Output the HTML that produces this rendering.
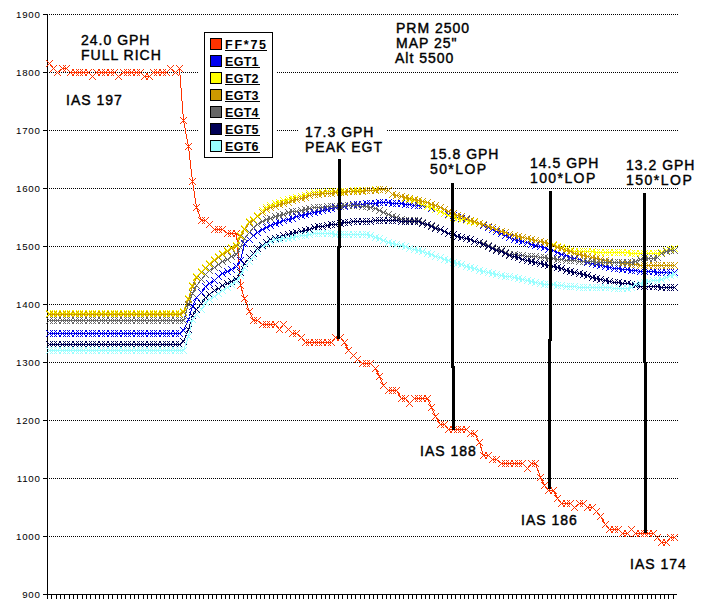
<!DOCTYPE html>
<html><head><meta charset="utf-8"><style>
html,body{margin:0;padding:0;background:#fff;}
svg{display:block;}
text{font-family:"Liberation Sans",sans-serif;}
.yl{font-size:9.7px;text-anchor:end;letter-spacing:0.75px;}
.an{font-size:14px;font-weight:normal;letter-spacing:1px;stroke:#000;stroke-width:0.4px;}
.lg{font-size:12.5px;font-weight:bold;}
</style></head><body>
<svg width="716" height="607" viewBox="0 0 716 607" shape-rendering="crispEdges">
<defs><path id="mk" d="M-3 -3h1v1h-1zM-3 3h1v1h-1zM-2 -2h1v1h-1zM-2 2h1v1h-1zM-1 -1h1v1h-1zM-1 1h1v1h-1zM1 1h1v1h-1zM1 -1h1v1h-1zM2 2h1v1h-1zM2 -2h1v1h-1zM3 3h1v1h-1zM3 -3h1v1h-1zM0 0h1v1h-1z"/></defs><rect width="716" height="607" fill="#fff"/>
<line x1="49" y1="14.5" x2="678" y2="14.5" stroke="#000" stroke-width="1" stroke-dasharray="1 1"/><line x1="49" y1="72.5" x2="678" y2="72.5" stroke="#000" stroke-width="1" stroke-dasharray="1 1"/><line x1="49" y1="130.5" x2="678" y2="130.5" stroke="#000" stroke-width="1" stroke-dasharray="1 1"/><line x1="49" y1="188.5" x2="678" y2="188.5" stroke="#000" stroke-width="1" stroke-dasharray="1 1"/><line x1="49" y1="246.5" x2="678" y2="246.5" stroke="#000" stroke-width="1" stroke-dasharray="1 1"/><line x1="49" y1="304.5" x2="678" y2="304.5" stroke="#000" stroke-width="1" stroke-dasharray="1 1"/><line x1="49" y1="362.5" x2="678" y2="362.5" stroke="#000" stroke-width="1" stroke-dasharray="1 1"/><line x1="49" y1="420.5" x2="678" y2="420.5" stroke="#000" stroke-width="1" stroke-dasharray="1 1"/><line x1="49" y1="478.5" x2="678" y2="478.5" stroke="#000" stroke-width="1" stroke-dasharray="1 1"/><line x1="49" y1="536.5" x2="678" y2="536.5" stroke="#000" stroke-width="1" stroke-dasharray="1 1"/><rect x="43" y="14" width="4" height="1" fill="#000"/><rect x="43" y="72" width="4" height="1" fill="#000"/><rect x="43" y="130" width="4" height="1" fill="#000"/><rect x="43" y="188" width="4" height="1" fill="#000"/><rect x="43" y="246" width="4" height="1" fill="#000"/><rect x="43" y="304" width="4" height="1" fill="#000"/><rect x="43" y="362" width="4" height="1" fill="#000"/><rect x="43" y="420" width="4" height="1" fill="#000"/><rect x="43" y="478" width="4" height="1" fill="#000"/><rect x="43" y="536" width="4" height="1" fill="#000"/><rect x="43" y="594" width="4" height="1" fill="#000"/><rect x="47" y="595" width="1" height="4" fill="#000"/><rect x="51" y="595" width="1" height="4" fill="#000"/><rect x="56" y="595" width="1" height="4" fill="#000"/><rect x="60" y="595" width="1" height="4" fill="#000"/><rect x="64" y="595" width="1" height="4" fill="#000"/><rect x="69" y="595" width="1" height="4" fill="#000"/><rect x="73" y="595" width="1" height="4" fill="#000"/><rect x="77" y="595" width="1" height="4" fill="#000"/><rect x="82" y="595" width="1" height="4" fill="#000"/><rect x="86" y="595" width="1" height="4" fill="#000"/><rect x="90" y="595" width="1" height="4" fill="#000"/><rect x="95" y="595" width="1" height="4" fill="#000"/><rect x="99" y="595" width="1" height="4" fill="#000"/><rect x="103" y="595" width="1" height="4" fill="#000"/><rect x="108" y="595" width="1" height="4" fill="#000"/><rect x="112" y="595" width="1" height="4" fill="#000"/><rect x="117" y="595" width="1" height="4" fill="#000"/><rect x="121" y="595" width="1" height="4" fill="#000"/><rect x="125" y="595" width="1" height="4" fill="#000"/><rect x="130" y="595" width="1" height="4" fill="#000"/><rect x="134" y="595" width="1" height="4" fill="#000"/><rect x="138" y="595" width="1" height="4" fill="#000"/><rect x="143" y="595" width="1" height="4" fill="#000"/><rect x="147" y="595" width="1" height="4" fill="#000"/><rect x="151" y="595" width="1" height="4" fill="#000"/><rect x="156" y="595" width="1" height="4" fill="#000"/><rect x="160" y="595" width="1" height="4" fill="#000"/><rect x="164" y="595" width="1" height="4" fill="#000"/><rect x="169" y="595" width="1" height="4" fill="#000"/><rect x="173" y="595" width="1" height="4" fill="#000"/><rect x="177" y="595" width="1" height="4" fill="#000"/><rect x="182" y="595" width="1" height="4" fill="#000"/><rect x="186" y="595" width="1" height="4" fill="#000"/><rect x="190" y="595" width="1" height="4" fill="#000"/><rect x="195" y="595" width="1" height="4" fill="#000"/><rect x="199" y="595" width="1" height="4" fill="#000"/><rect x="203" y="595" width="1" height="4" fill="#000"/><rect x="208" y="595" width="1" height="4" fill="#000"/><rect x="212" y="595" width="1" height="4" fill="#000"/><rect x="216" y="595" width="1" height="4" fill="#000"/><rect x="221" y="595" width="1" height="4" fill="#000"/><rect x="225" y="595" width="1" height="4" fill="#000"/><rect x="229" y="595" width="1" height="4" fill="#000"/><rect x="234" y="595" width="1" height="4" fill="#000"/><rect x="238" y="595" width="1" height="4" fill="#000"/><rect x="243" y="595" width="1" height="4" fill="#000"/><rect x="247" y="595" width="1" height="4" fill="#000"/><rect x="251" y="595" width="1" height="4" fill="#000"/><rect x="256" y="595" width="1" height="4" fill="#000"/><rect x="260" y="595" width="1" height="4" fill="#000"/><rect x="264" y="595" width="1" height="4" fill="#000"/><rect x="269" y="595" width="1" height="4" fill="#000"/><rect x="273" y="595" width="1" height="4" fill="#000"/><rect x="277" y="595" width="1" height="4" fill="#000"/><rect x="282" y="595" width="1" height="4" fill="#000"/><rect x="286" y="595" width="1" height="4" fill="#000"/><rect x="290" y="595" width="1" height="4" fill="#000"/><rect x="295" y="595" width="1" height="4" fill="#000"/><rect x="299" y="595" width="1" height="4" fill="#000"/><rect x="303" y="595" width="1" height="4" fill="#000"/><rect x="308" y="595" width="1" height="4" fill="#000"/><rect x="312" y="595" width="1" height="4" fill="#000"/><rect x="316" y="595" width="1" height="4" fill="#000"/><rect x="321" y="595" width="1" height="4" fill="#000"/><rect x="325" y="595" width="1" height="4" fill="#000"/><rect x="329" y="595" width="1" height="4" fill="#000"/><rect x="334" y="595" width="1" height="4" fill="#000"/><rect x="338" y="595" width="1" height="4" fill="#000"/><rect x="342" y="595" width="1" height="4" fill="#000"/><rect x="347" y="595" width="1" height="4" fill="#000"/><rect x="351" y="595" width="1" height="4" fill="#000"/><rect x="355" y="595" width="1" height="4" fill="#000"/><rect x="360" y="595" width="1" height="4" fill="#000"/><rect x="364" y="595" width="1" height="4" fill="#000"/><rect x="369" y="595" width="1" height="4" fill="#000"/><rect x="373" y="595" width="1" height="4" fill="#000"/><rect x="377" y="595" width="1" height="4" fill="#000"/><rect x="382" y="595" width="1" height="4" fill="#000"/><rect x="386" y="595" width="1" height="4" fill="#000"/><rect x="390" y="595" width="1" height="4" fill="#000"/><rect x="395" y="595" width="1" height="4" fill="#000"/><rect x="399" y="595" width="1" height="4" fill="#000"/><rect x="403" y="595" width="1" height="4" fill="#000"/><rect x="408" y="595" width="1" height="4" fill="#000"/><rect x="412" y="595" width="1" height="4" fill="#000"/><rect x="416" y="595" width="1" height="4" fill="#000"/><rect x="421" y="595" width="1" height="4" fill="#000"/><rect x="425" y="595" width="1" height="4" fill="#000"/><rect x="429" y="595" width="1" height="4" fill="#000"/><rect x="434" y="595" width="1" height="4" fill="#000"/><rect x="438" y="595" width="1" height="4" fill="#000"/><rect x="442" y="595" width="1" height="4" fill="#000"/><rect x="447" y="595" width="1" height="4" fill="#000"/><rect x="451" y="595" width="1" height="4" fill="#000"/><rect x="455" y="595" width="1" height="4" fill="#000"/><rect x="460" y="595" width="1" height="4" fill="#000"/><rect x="464" y="595" width="1" height="4" fill="#000"/><rect x="468" y="595" width="1" height="4" fill="#000"/><rect x="473" y="595" width="1" height="4" fill="#000"/><rect x="477" y="595" width="1" height="4" fill="#000"/><rect x="481" y="595" width="1" height="4" fill="#000"/><rect x="486" y="595" width="1" height="4" fill="#000"/><rect x="490" y="595" width="1" height="4" fill="#000"/><rect x="495" y="595" width="1" height="4" fill="#000"/><rect x="499" y="595" width="1" height="4" fill="#000"/><rect x="503" y="595" width="1" height="4" fill="#000"/><rect x="508" y="595" width="1" height="4" fill="#000"/><rect x="512" y="595" width="1" height="4" fill="#000"/><rect x="516" y="595" width="1" height="4" fill="#000"/><rect x="521" y="595" width="1" height="4" fill="#000"/><rect x="525" y="595" width="1" height="4" fill="#000"/><rect x="529" y="595" width="1" height="4" fill="#000"/><rect x="534" y="595" width="1" height="4" fill="#000"/><rect x="538" y="595" width="1" height="4" fill="#000"/><rect x="542" y="595" width="1" height="4" fill="#000"/><rect x="547" y="595" width="1" height="4" fill="#000"/><rect x="551" y="595" width="1" height="4" fill="#000"/><rect x="555" y="595" width="1" height="4" fill="#000"/><rect x="560" y="595" width="1" height="4" fill="#000"/><rect x="564" y="595" width="1" height="4" fill="#000"/><rect x="568" y="595" width="1" height="4" fill="#000"/><rect x="573" y="595" width="1" height="4" fill="#000"/><rect x="577" y="595" width="1" height="4" fill="#000"/><rect x="581" y="595" width="1" height="4" fill="#000"/><rect x="586" y="595" width="1" height="4" fill="#000"/><rect x="590" y="595" width="1" height="4" fill="#000"/><rect x="594" y="595" width="1" height="4" fill="#000"/><rect x="599" y="595" width="1" height="4" fill="#000"/><rect x="603" y="595" width="1" height="4" fill="#000"/><rect x="607" y="595" width="1" height="4" fill="#000"/><rect x="612" y="595" width="1" height="4" fill="#000"/><rect x="616" y="595" width="1" height="4" fill="#000"/><rect x="621" y="595" width="1" height="4" fill="#000"/><rect x="625" y="595" width="1" height="4" fill="#000"/><rect x="629" y="595" width="1" height="4" fill="#000"/><rect x="634" y="595" width="1" height="4" fill="#000"/><rect x="638" y="595" width="1" height="4" fill="#000"/><rect x="642" y="595" width="1" height="4" fill="#000"/><rect x="647" y="595" width="1" height="4" fill="#000"/><rect x="651" y="595" width="1" height="4" fill="#000"/><rect x="655" y="595" width="1" height="4" fill="#000"/><rect x="660" y="595" width="1" height="4" fill="#000"/><rect x="664" y="595" width="1" height="4" fill="#000"/><rect x="668" y="595" width="1" height="4" fill="#000"/><rect x="673" y="595" width="1" height="4" fill="#000"/><rect x="47" y="14" width="1" height="585" fill="#000"/><rect x="43" y="594" width="634" height="1" fill="#000"/><text x="40.6" y="18" class="yl">1900</text><text x="40.6" y="76" class="yl">1800</text><text x="40.6" y="134" class="yl">1700</text><text x="40.6" y="192" class="yl">1600</text><text x="40.6" y="250" class="yl">1500</text><text x="40.6" y="308" class="yl">1400</text><text x="40.6" y="366" class="yl">1300</text><text x="40.6" y="424" class="yl">1200</text><text x="40.6" y="482" class="yl">1100</text><text x="40.6" y="540" class="yl">1000</text><text x="40.6" y="598" class="yl">900</text><polyline points="49.5,63.5 53.5,68.5 57.5,72.5 62.5,68.5 66.5,68.5 70.5,72.5 75.5,72.5 79.5,72.5 83.5,72.5 88.5,72.5 92.5,76.5 96.5,72.5 101.5,72.5 105.5,72.5 110.5,72.5 114.5,72.5 118.5,76.5 123.5,72.5 127.5,72.5 131.5,72.5 136.5,72.5 140.5,72.5 144.5,76.5 149.5,76.5 153.5,72.5 157.5,72.5 162.5,72.5 166.5,72.5 170.5,68.5 175.5,72.5 179.5,68.5 183.5,120.5 188.5,146.5 192.5,181.5 196.5,207.5 201.5,220.5 205.5,220.5 209.5,224.5 214.5,229.5 218.5,229.5 222.5,229.5 227.5,233.5 231.5,233.5 236.5,233.5 240.5,285.5 244.5,298.5 249.5,311.5 253.5,320.5 257.5,320.5 262.5,324.5 266.5,324.5 270.5,324.5 275.5,324.5 279.5,329.5 283.5,324.5 288.5,329.5 292.5,333.5 296.5,333.5 301.5,337.5 305.5,342.5 309.5,342.5 314.5,342.5 318.5,342.5 322.5,342.5 327.5,342.5 331.5,342.5 335.5,337.5 340.5,337.5 344.5,342.5 348.5,350.5 353.5,355.5 357.5,359.5 362.5,363.5 366.5,363.5 370.5,363.5 375.5,368.5 379.5,376.5 383.5,385.5 388.5,390.5 392.5,390.5 396.5,390.5 401.5,398.5 405.5,398.5 409.5,403.5 414.5,398.5 418.5,398.5 422.5,398.5 427.5,398.5 431.5,407.5 435.5,416.5 440.5,424.5 444.5,424.5 448.5,429.5 453.5,429.5 457.5,429.5 461.5,429.5 466.5,429.5 470.5,433.5 474.5,433.5 479.5,442.5 483.5,455.5 488.5,455.5 492.5,459.5 496.5,459.5 501.5,463.5 505.5,463.5 509.5,463.5 514.5,463.5 518.5,463.5 522.5,463.5 527.5,468.5 531.5,463.5 535.5,463.5 540.5,477.5 544.5,485.5 548.5,490.5 553.5,490.5 557.5,498.5 561.5,503.5 566.5,503.5 570.5,503.5 574.5,507.5 579.5,503.5 583.5,503.5 587.5,507.5 592.5,507.5 596.5,511.5 600.5,516.5 605.5,524.5 609.5,529.5 614.5,529.5 618.5,529.5 622.5,533.5 627.5,533.5 631.5,529.5 635.5,533.5 640.5,533.5 644.5,533.5 648.5,533.5 653.5,533.5 657.5,537.5 661.5,542.5 666.5,542.5 670.5,537.5 674.5,537.5" fill="none" stroke="#FF3300" stroke-width="1"/><g fill="#FF3300"><use href="#mk" x="49" y="63"/><use href="#mk" x="53" y="68"/><use href="#mk" x="57" y="72"/><use href="#mk" x="62" y="68"/><use href="#mk" x="66" y="68"/><use href="#mk" x="70" y="72"/><use href="#mk" x="75" y="72"/><use href="#mk" x="79" y="72"/><use href="#mk" x="83" y="72"/><use href="#mk" x="88" y="72"/><use href="#mk" x="92" y="76"/><use href="#mk" x="96" y="72"/><use href="#mk" x="101" y="72"/><use href="#mk" x="105" y="72"/><use href="#mk" x="110" y="72"/><use href="#mk" x="114" y="72"/><use href="#mk" x="118" y="76"/><use href="#mk" x="123" y="72"/><use href="#mk" x="127" y="72"/><use href="#mk" x="131" y="72"/><use href="#mk" x="136" y="72"/><use href="#mk" x="140" y="72"/><use href="#mk" x="144" y="76"/><use href="#mk" x="149" y="76"/><use href="#mk" x="153" y="72"/><use href="#mk" x="157" y="72"/><use href="#mk" x="162" y="72"/><use href="#mk" x="166" y="72"/><use href="#mk" x="170" y="68"/><use href="#mk" x="175" y="72"/><use href="#mk" x="179" y="68"/><use href="#mk" x="183" y="120"/><use href="#mk" x="188" y="146"/><use href="#mk" x="192" y="181"/><use href="#mk" x="196" y="207"/><use href="#mk" x="201" y="220"/><use href="#mk" x="205" y="220"/><use href="#mk" x="209" y="224"/><use href="#mk" x="214" y="229"/><use href="#mk" x="218" y="229"/><use href="#mk" x="222" y="229"/><use href="#mk" x="227" y="233"/><use href="#mk" x="231" y="233"/><use href="#mk" x="236" y="233"/><use href="#mk" x="240" y="285"/><use href="#mk" x="244" y="298"/><use href="#mk" x="249" y="311"/><use href="#mk" x="253" y="320"/><use href="#mk" x="257" y="320"/><use href="#mk" x="262" y="324"/><use href="#mk" x="266" y="324"/><use href="#mk" x="270" y="324"/><use href="#mk" x="275" y="324"/><use href="#mk" x="279" y="329"/><use href="#mk" x="283" y="324"/><use href="#mk" x="288" y="329"/><use href="#mk" x="292" y="333"/><use href="#mk" x="296" y="333"/><use href="#mk" x="301" y="337"/><use href="#mk" x="305" y="342"/><use href="#mk" x="309" y="342"/><use href="#mk" x="314" y="342"/><use href="#mk" x="318" y="342"/><use href="#mk" x="322" y="342"/><use href="#mk" x="327" y="342"/><use href="#mk" x="331" y="342"/><use href="#mk" x="335" y="337"/><use href="#mk" x="340" y="337"/><use href="#mk" x="344" y="342"/><use href="#mk" x="348" y="350"/><use href="#mk" x="353" y="355"/><use href="#mk" x="357" y="359"/><use href="#mk" x="362" y="363"/><use href="#mk" x="366" y="363"/><use href="#mk" x="370" y="363"/><use href="#mk" x="375" y="368"/><use href="#mk" x="379" y="376"/><use href="#mk" x="383" y="385"/><use href="#mk" x="388" y="390"/><use href="#mk" x="392" y="390"/><use href="#mk" x="396" y="390"/><use href="#mk" x="401" y="398"/><use href="#mk" x="405" y="398"/><use href="#mk" x="409" y="403"/><use href="#mk" x="414" y="398"/><use href="#mk" x="418" y="398"/><use href="#mk" x="422" y="398"/><use href="#mk" x="427" y="398"/><use href="#mk" x="431" y="407"/><use href="#mk" x="435" y="416"/><use href="#mk" x="440" y="424"/><use href="#mk" x="444" y="424"/><use href="#mk" x="448" y="429"/><use href="#mk" x="453" y="429"/><use href="#mk" x="457" y="429"/><use href="#mk" x="461" y="429"/><use href="#mk" x="466" y="429"/><use href="#mk" x="470" y="433"/><use href="#mk" x="474" y="433"/><use href="#mk" x="479" y="442"/><use href="#mk" x="483" y="455"/><use href="#mk" x="488" y="455"/><use href="#mk" x="492" y="459"/><use href="#mk" x="496" y="459"/><use href="#mk" x="501" y="463"/><use href="#mk" x="505" y="463"/><use href="#mk" x="509" y="463"/><use href="#mk" x="514" y="463"/><use href="#mk" x="518" y="463"/><use href="#mk" x="522" y="463"/><use href="#mk" x="527" y="468"/><use href="#mk" x="531" y="463"/><use href="#mk" x="535" y="463"/><use href="#mk" x="540" y="477"/><use href="#mk" x="544" y="485"/><use href="#mk" x="548" y="490"/><use href="#mk" x="553" y="490"/><use href="#mk" x="557" y="498"/><use href="#mk" x="561" y="503"/><use href="#mk" x="566" y="503"/><use href="#mk" x="570" y="503"/><use href="#mk" x="574" y="507"/><use href="#mk" x="579" y="503"/><use href="#mk" x="583" y="503"/><use href="#mk" x="587" y="507"/><use href="#mk" x="592" y="507"/><use href="#mk" x="596" y="511"/><use href="#mk" x="600" y="516"/><use href="#mk" x="605" y="524"/><use href="#mk" x="609" y="529"/><use href="#mk" x="614" y="529"/><use href="#mk" x="618" y="529"/><use href="#mk" x="622" y="533"/><use href="#mk" x="627" y="533"/><use href="#mk" x="631" y="529"/><use href="#mk" x="635" y="533"/><use href="#mk" x="640" y="533"/><use href="#mk" x="644" y="533"/><use href="#mk" x="648" y="533"/><use href="#mk" x="653" y="533"/><use href="#mk" x="657" y="537"/><use href="#mk" x="661" y="542"/><use href="#mk" x="666" y="542"/><use href="#mk" x="670" y="537"/><use href="#mk" x="674" y="537"/></g><polyline points="49.5,333.5 53.5,333.5 57.5,333.5 62.5,333.5 66.5,333.5 70.5,333.5 75.5,333.5 79.5,333.5 83.5,333.5 88.5,333.5 92.5,333.5 96.5,333.5 101.5,333.5 105.5,333.5 110.5,333.5 114.5,333.5 118.5,333.5 123.5,333.5 127.5,333.5 131.5,333.5 136.5,333.5 140.5,333.5 144.5,333.5 149.5,333.5 153.5,333.5 157.5,333.5 162.5,333.5 166.5,333.5 170.5,333.5 175.5,333.5 179.5,333.5 183.5,330.5 188.5,319.5 192.5,306.5 196.5,297.5 201.5,292.5 205.5,286.5 209.5,283.5 214.5,280.5 218.5,276.5 222.5,273.5 227.5,271.5 231.5,269.5 236.5,266.5 240.5,260.5 244.5,243.5 249.5,239.5 253.5,235.5 257.5,232.5 262.5,229.5 266.5,227.5 270.5,225.5 275.5,223.5 279.5,222.5 283.5,220.5 288.5,219.5 292.5,218.5 296.5,216.5 301.5,215.5 305.5,214.5 309.5,213.5 314.5,212.5 318.5,211.5 322.5,210.5 327.5,209.5 331.5,208.5 335.5,207.5 340.5,206.5 344.5,206.5 348.5,205.5 353.5,204.5 357.5,204.5 362.5,204.5 366.5,203.5 370.5,203.5 375.5,203.5 379.5,202.5 383.5,202.5 388.5,202.5 392.5,203.5 396.5,203.5 401.5,203.5 405.5,204.5 409.5,204.5 414.5,205.5 418.5,205.5 422.5,205.5 427.5,206.5 431.5,208.5 435.5,209.5 440.5,211.5 444.5,213.5 448.5,214.5 453.5,215.5 457.5,217.5 461.5,218.5 466.5,219.5 470.5,220.5 474.5,222.5 479.5,223.5 483.5,225.5 488.5,227.5 492.5,229.5 496.5,231.5 501.5,233.5 505.5,235.5 509.5,237.5 514.5,239.5 518.5,240.5 522.5,241.5 527.5,242.5 531.5,244.5 535.5,245.5 540.5,246.5 544.5,247.5 548.5,249.5 553.5,250.5 557.5,252.5 561.5,254.5 566.5,255.5 570.5,257.5 574.5,258.5 579.5,259.5 583.5,261.5 587.5,262.5 592.5,263.5 596.5,264.5 600.5,265.5 605.5,266.5 609.5,267.5 614.5,268.5 618.5,268.5 622.5,269.5 627.5,269.5 631.5,270.5 635.5,270.5 640.5,271.5 644.5,271.5 648.5,271.5 653.5,271.5 657.5,272.5 661.5,272.5 666.5,272.5 670.5,272.5 674.5,272.5" fill="none" stroke="#0000EE" stroke-width="1"/><g fill="#0000EE"><use href="#mk" x="49" y="333"/><use href="#mk" x="53" y="333"/><use href="#mk" x="57" y="333"/><use href="#mk" x="62" y="333"/><use href="#mk" x="66" y="333"/><use href="#mk" x="70" y="333"/><use href="#mk" x="75" y="333"/><use href="#mk" x="79" y="333"/><use href="#mk" x="83" y="333"/><use href="#mk" x="88" y="333"/><use href="#mk" x="92" y="333"/><use href="#mk" x="96" y="333"/><use href="#mk" x="101" y="333"/><use href="#mk" x="105" y="333"/><use href="#mk" x="110" y="333"/><use href="#mk" x="114" y="333"/><use href="#mk" x="118" y="333"/><use href="#mk" x="123" y="333"/><use href="#mk" x="127" y="333"/><use href="#mk" x="131" y="333"/><use href="#mk" x="136" y="333"/><use href="#mk" x="140" y="333"/><use href="#mk" x="144" y="333"/><use href="#mk" x="149" y="333"/><use href="#mk" x="153" y="333"/><use href="#mk" x="157" y="333"/><use href="#mk" x="162" y="333"/><use href="#mk" x="166" y="333"/><use href="#mk" x="170" y="333"/><use href="#mk" x="175" y="333"/><use href="#mk" x="179" y="333"/><use href="#mk" x="183" y="330"/><use href="#mk" x="188" y="319"/><use href="#mk" x="192" y="306"/><use href="#mk" x="196" y="297"/><use href="#mk" x="201" y="292"/><use href="#mk" x="205" y="286"/><use href="#mk" x="209" y="283"/><use href="#mk" x="214" y="280"/><use href="#mk" x="218" y="276"/><use href="#mk" x="222" y="273"/><use href="#mk" x="227" y="271"/><use href="#mk" x="231" y="269"/><use href="#mk" x="236" y="266"/><use href="#mk" x="240" y="260"/><use href="#mk" x="244" y="243"/><use href="#mk" x="249" y="239"/><use href="#mk" x="253" y="235"/><use href="#mk" x="257" y="232"/><use href="#mk" x="262" y="229"/><use href="#mk" x="266" y="227"/><use href="#mk" x="270" y="225"/><use href="#mk" x="275" y="223"/><use href="#mk" x="279" y="222"/><use href="#mk" x="283" y="220"/><use href="#mk" x="288" y="219"/><use href="#mk" x="292" y="218"/><use href="#mk" x="296" y="216"/><use href="#mk" x="301" y="215"/><use href="#mk" x="305" y="214"/><use href="#mk" x="309" y="213"/><use href="#mk" x="314" y="212"/><use href="#mk" x="318" y="211"/><use href="#mk" x="322" y="210"/><use href="#mk" x="327" y="209"/><use href="#mk" x="331" y="208"/><use href="#mk" x="335" y="207"/><use href="#mk" x="340" y="206"/><use href="#mk" x="344" y="206"/><use href="#mk" x="348" y="205"/><use href="#mk" x="353" y="204"/><use href="#mk" x="357" y="204"/><use href="#mk" x="362" y="204"/><use href="#mk" x="366" y="203"/><use href="#mk" x="370" y="203"/><use href="#mk" x="375" y="203"/><use href="#mk" x="379" y="202"/><use href="#mk" x="383" y="202"/><use href="#mk" x="388" y="202"/><use href="#mk" x="392" y="203"/><use href="#mk" x="396" y="203"/><use href="#mk" x="401" y="203"/><use href="#mk" x="405" y="204"/><use href="#mk" x="409" y="204"/><use href="#mk" x="414" y="205"/><use href="#mk" x="418" y="205"/><use href="#mk" x="422" y="205"/><use href="#mk" x="427" y="206"/><use href="#mk" x="431" y="208"/><use href="#mk" x="435" y="209"/><use href="#mk" x="440" y="211"/><use href="#mk" x="444" y="213"/><use href="#mk" x="448" y="214"/><use href="#mk" x="453" y="215"/><use href="#mk" x="457" y="217"/><use href="#mk" x="461" y="218"/><use href="#mk" x="466" y="219"/><use href="#mk" x="470" y="220"/><use href="#mk" x="474" y="222"/><use href="#mk" x="479" y="223"/><use href="#mk" x="483" y="225"/><use href="#mk" x="488" y="227"/><use href="#mk" x="492" y="229"/><use href="#mk" x="496" y="231"/><use href="#mk" x="501" y="233"/><use href="#mk" x="505" y="235"/><use href="#mk" x="509" y="237"/><use href="#mk" x="514" y="239"/><use href="#mk" x="518" y="240"/><use href="#mk" x="522" y="241"/><use href="#mk" x="527" y="242"/><use href="#mk" x="531" y="244"/><use href="#mk" x="535" y="245"/><use href="#mk" x="540" y="246"/><use href="#mk" x="544" y="247"/><use href="#mk" x="548" y="249"/><use href="#mk" x="553" y="250"/><use href="#mk" x="557" y="252"/><use href="#mk" x="561" y="254"/><use href="#mk" x="566" y="255"/><use href="#mk" x="570" y="257"/><use href="#mk" x="574" y="258"/><use href="#mk" x="579" y="259"/><use href="#mk" x="583" y="261"/><use href="#mk" x="587" y="262"/><use href="#mk" x="592" y="263"/><use href="#mk" x="596" y="264"/><use href="#mk" x="600" y="265"/><use href="#mk" x="605" y="266"/><use href="#mk" x="609" y="267"/><use href="#mk" x="614" y="268"/><use href="#mk" x="618" y="268"/><use href="#mk" x="622" y="269"/><use href="#mk" x="627" y="269"/><use href="#mk" x="631" y="270"/><use href="#mk" x="635" y="270"/><use href="#mk" x="640" y="271"/><use href="#mk" x="644" y="271"/><use href="#mk" x="648" y="271"/><use href="#mk" x="653" y="271"/><use href="#mk" x="657" y="272"/><use href="#mk" x="661" y="272"/><use href="#mk" x="666" y="272"/><use href="#mk" x="670" y="272"/><use href="#mk" x="674" y="272"/></g><polyline points="49.5,313.5 53.5,313.5 57.5,313.5 62.5,313.5 66.5,313.5 70.5,313.5 75.5,313.5 79.5,313.5 83.5,313.5 88.5,313.5 92.5,313.5 96.5,313.5 101.5,313.5 105.5,313.5 110.5,313.5 114.5,313.5 118.5,313.5 123.5,313.5 127.5,313.5 131.5,313.5 136.5,313.5 140.5,313.5 144.5,313.5 149.5,313.5 153.5,313.5 157.5,313.5 162.5,313.5 166.5,313.5 170.5,313.5 175.5,313.5 179.5,313.5 183.5,311.5 188.5,298.5 192.5,285.5 196.5,276.5 201.5,271.5 205.5,267.5 209.5,263.5 214.5,259.5 218.5,256.5 222.5,253.5 227.5,250.5 231.5,247.5 236.5,245.5 240.5,235.5 244.5,228.5 249.5,221.5 253.5,219.5 257.5,215.5 262.5,210.5 266.5,207.5 270.5,205.5 275.5,203.5 279.5,202.5 283.5,200.5 288.5,199.5 292.5,198.5 296.5,197.5 301.5,196.5 305.5,195.5 309.5,193.5 314.5,192.5 318.5,192.5 322.5,192.5 327.5,191.5 331.5,191.5 335.5,191.5 340.5,191.5 344.5,191.5 348.5,191.5 353.5,190.5 357.5,190.5 362.5,190.5 366.5,190.5 370.5,190.5 375.5,189.5 379.5,189.5 383.5,189.5 388.5,190.5 392.5,194.5 396.5,195.5 401.5,196.5 405.5,198.5 409.5,199.5 414.5,200.5 418.5,202.5 422.5,204.5 427.5,206.5 431.5,207.5 435.5,209.5 440.5,211.5 444.5,213.5 448.5,215.5 453.5,217.5 457.5,218.5 461.5,219.5 466.5,220.5 470.5,221.5 474.5,222.5 479.5,223.5 483.5,224.5 488.5,226.5 492.5,227.5 496.5,229.5 501.5,231.5 505.5,232.5 509.5,234.5 514.5,235.5 518.5,236.5 522.5,237.5 527.5,238.5 531.5,239.5 535.5,240.5 540.5,241.5 544.5,242.5 548.5,243.5 553.5,244.5 557.5,246.5 561.5,247.5 566.5,248.5 570.5,250.5 574.5,251.5 579.5,251.5 583.5,251.5 587.5,251.5 592.5,251.5 596.5,252.5 600.5,252.5 605.5,252.5 609.5,252.5 614.5,252.5 618.5,252.5 622.5,252.5 627.5,252.5 631.5,253.5 635.5,253.5 640.5,253.5 644.5,253.5 648.5,253.5 653.5,253.5 657.5,253.5 661.5,252.5 666.5,250.5 670.5,249.5 674.5,248.5" fill="none" stroke="#FFFF00" stroke-width="1"/><g fill="#FFFF00"><use href="#mk" x="49" y="313"/><use href="#mk" x="53" y="313"/><use href="#mk" x="57" y="313"/><use href="#mk" x="62" y="313"/><use href="#mk" x="66" y="313"/><use href="#mk" x="70" y="313"/><use href="#mk" x="75" y="313"/><use href="#mk" x="79" y="313"/><use href="#mk" x="83" y="313"/><use href="#mk" x="88" y="313"/><use href="#mk" x="92" y="313"/><use href="#mk" x="96" y="313"/><use href="#mk" x="101" y="313"/><use href="#mk" x="105" y="313"/><use href="#mk" x="110" y="313"/><use href="#mk" x="114" y="313"/><use href="#mk" x="118" y="313"/><use href="#mk" x="123" y="313"/><use href="#mk" x="127" y="313"/><use href="#mk" x="131" y="313"/><use href="#mk" x="136" y="313"/><use href="#mk" x="140" y="313"/><use href="#mk" x="144" y="313"/><use href="#mk" x="149" y="313"/><use href="#mk" x="153" y="313"/><use href="#mk" x="157" y="313"/><use href="#mk" x="162" y="313"/><use href="#mk" x="166" y="313"/><use href="#mk" x="170" y="313"/><use href="#mk" x="175" y="313"/><use href="#mk" x="179" y="313"/><use href="#mk" x="183" y="311"/><use href="#mk" x="188" y="298"/><use href="#mk" x="192" y="285"/><use href="#mk" x="196" y="276"/><use href="#mk" x="201" y="271"/><use href="#mk" x="205" y="267"/><use href="#mk" x="209" y="263"/><use href="#mk" x="214" y="259"/><use href="#mk" x="218" y="256"/><use href="#mk" x="222" y="253"/><use href="#mk" x="227" y="250"/><use href="#mk" x="231" y="247"/><use href="#mk" x="236" y="245"/><use href="#mk" x="240" y="235"/><use href="#mk" x="244" y="228"/><use href="#mk" x="249" y="221"/><use href="#mk" x="253" y="219"/><use href="#mk" x="257" y="215"/><use href="#mk" x="262" y="210"/><use href="#mk" x="266" y="207"/><use href="#mk" x="270" y="205"/><use href="#mk" x="275" y="203"/><use href="#mk" x="279" y="202"/><use href="#mk" x="283" y="200"/><use href="#mk" x="288" y="199"/><use href="#mk" x="292" y="198"/><use href="#mk" x="296" y="197"/><use href="#mk" x="301" y="196"/><use href="#mk" x="305" y="195"/><use href="#mk" x="309" y="193"/><use href="#mk" x="314" y="192"/><use href="#mk" x="318" y="192"/><use href="#mk" x="322" y="192"/><use href="#mk" x="327" y="191"/><use href="#mk" x="331" y="191"/><use href="#mk" x="335" y="191"/><use href="#mk" x="340" y="191"/><use href="#mk" x="344" y="191"/><use href="#mk" x="348" y="191"/><use href="#mk" x="353" y="190"/><use href="#mk" x="357" y="190"/><use href="#mk" x="362" y="190"/><use href="#mk" x="366" y="190"/><use href="#mk" x="370" y="190"/><use href="#mk" x="375" y="189"/><use href="#mk" x="379" y="189"/><use href="#mk" x="383" y="189"/><use href="#mk" x="388" y="190"/><use href="#mk" x="392" y="194"/><use href="#mk" x="396" y="195"/><use href="#mk" x="401" y="196"/><use href="#mk" x="405" y="198"/><use href="#mk" x="409" y="199"/><use href="#mk" x="414" y="200"/><use href="#mk" x="418" y="202"/><use href="#mk" x="422" y="204"/><use href="#mk" x="427" y="206"/><use href="#mk" x="431" y="207"/><use href="#mk" x="435" y="209"/><use href="#mk" x="440" y="211"/><use href="#mk" x="444" y="213"/><use href="#mk" x="448" y="215"/><use href="#mk" x="453" y="217"/><use href="#mk" x="457" y="218"/><use href="#mk" x="461" y="219"/><use href="#mk" x="466" y="220"/><use href="#mk" x="470" y="221"/><use href="#mk" x="474" y="222"/><use href="#mk" x="479" y="223"/><use href="#mk" x="483" y="224"/><use href="#mk" x="488" y="226"/><use href="#mk" x="492" y="227"/><use href="#mk" x="496" y="229"/><use href="#mk" x="501" y="231"/><use href="#mk" x="505" y="232"/><use href="#mk" x="509" y="234"/><use href="#mk" x="514" y="235"/><use href="#mk" x="518" y="236"/><use href="#mk" x="522" y="237"/><use href="#mk" x="527" y="238"/><use href="#mk" x="531" y="239"/><use href="#mk" x="535" y="240"/><use href="#mk" x="540" y="241"/><use href="#mk" x="544" y="242"/><use href="#mk" x="548" y="243"/><use href="#mk" x="553" y="244"/><use href="#mk" x="557" y="246"/><use href="#mk" x="561" y="247"/><use href="#mk" x="566" y="248"/><use href="#mk" x="570" y="250"/><use href="#mk" x="574" y="251"/><use href="#mk" x="579" y="251"/><use href="#mk" x="583" y="251"/><use href="#mk" x="587" y="251"/><use href="#mk" x="592" y="251"/><use href="#mk" x="596" y="252"/><use href="#mk" x="600" y="252"/><use href="#mk" x="605" y="252"/><use href="#mk" x="609" y="252"/><use href="#mk" x="614" y="252"/><use href="#mk" x="618" y="252"/><use href="#mk" x="622" y="252"/><use href="#mk" x="627" y="252"/><use href="#mk" x="631" y="253"/><use href="#mk" x="635" y="253"/><use href="#mk" x="640" y="253"/><use href="#mk" x="644" y="253"/><use href="#mk" x="648" y="253"/><use href="#mk" x="653" y="253"/><use href="#mk" x="657" y="253"/><use href="#mk" x="661" y="252"/><use href="#mk" x="666" y="250"/><use href="#mk" x="670" y="249"/><use href="#mk" x="674" y="248"/></g><polyline points="49.5,314.5 53.5,314.5 57.5,314.5 62.5,314.5 66.5,314.5 70.5,314.5 75.5,314.5 79.5,314.5 83.5,314.5 88.5,314.5 92.5,314.5 96.5,314.5 101.5,314.5 105.5,314.5 110.5,314.5 114.5,314.5 118.5,314.5 123.5,314.5 127.5,314.5 131.5,314.5 136.5,314.5 140.5,314.5 144.5,314.5 149.5,314.5 153.5,314.5 157.5,314.5 162.5,314.5 166.5,314.5 170.5,314.5 175.5,314.5 179.5,314.5 183.5,312.5 188.5,299.5 192.5,286.5 196.5,277.5 201.5,272.5 205.5,268.5 209.5,264.5 214.5,260.5 218.5,257.5 222.5,254.5 227.5,251.5 231.5,248.5 236.5,246.5 240.5,236.5 244.5,229.5 249.5,222.5 253.5,220.5 257.5,216.5 262.5,212.5 266.5,209.5 270.5,207.5 275.5,206.5 279.5,204.5 283.5,203.5 288.5,202.5 292.5,200.5 296.5,199.5 301.5,198.5 305.5,197.5 309.5,195.5 314.5,194.5 318.5,194.5 322.5,193.5 327.5,193.5 331.5,193.5 335.5,192.5 340.5,192.5 344.5,192.5 348.5,191.5 353.5,191.5 357.5,191.5 362.5,191.5 366.5,190.5 370.5,190.5 375.5,190.5 379.5,189.5 383.5,189.5 388.5,190.5 392.5,194.5 396.5,195.5 401.5,196.5 405.5,197.5 409.5,198.5 414.5,199.5 418.5,200.5 422.5,201.5 427.5,202.5 431.5,204.5 435.5,205.5 440.5,207.5 444.5,209.5 448.5,211.5 453.5,213.5 457.5,215.5 461.5,216.5 466.5,218.5 470.5,220.5 474.5,221.5 479.5,223.5 483.5,224.5 488.5,226.5 492.5,227.5 496.5,229.5 501.5,231.5 505.5,232.5 509.5,234.5 514.5,235.5 518.5,236.5 522.5,237.5 527.5,238.5 531.5,239.5 535.5,240.5 540.5,241.5 544.5,242.5 548.5,243.5 553.5,245.5 557.5,247.5 561.5,248.5 566.5,250.5 570.5,251.5 574.5,253.5 579.5,254.5 583.5,255.5 587.5,256.5 592.5,257.5 596.5,258.5 600.5,259.5 605.5,260.5 609.5,261.5 614.5,262.5 618.5,262.5 622.5,263.5 627.5,263.5 631.5,264.5 635.5,264.5 640.5,265.5 644.5,265.5 648.5,265.5 653.5,265.5 657.5,265.5 661.5,265.5 666.5,265.5 670.5,265.5 674.5,265.5" fill="none" stroke="#CC9900" stroke-width="1"/><g fill="#CC9900"><use href="#mk" x="49" y="314"/><use href="#mk" x="53" y="314"/><use href="#mk" x="57" y="314"/><use href="#mk" x="62" y="314"/><use href="#mk" x="66" y="314"/><use href="#mk" x="70" y="314"/><use href="#mk" x="75" y="314"/><use href="#mk" x="79" y="314"/><use href="#mk" x="83" y="314"/><use href="#mk" x="88" y="314"/><use href="#mk" x="92" y="314"/><use href="#mk" x="96" y="314"/><use href="#mk" x="101" y="314"/><use href="#mk" x="105" y="314"/><use href="#mk" x="110" y="314"/><use href="#mk" x="114" y="314"/><use href="#mk" x="118" y="314"/><use href="#mk" x="123" y="314"/><use href="#mk" x="127" y="314"/><use href="#mk" x="131" y="314"/><use href="#mk" x="136" y="314"/><use href="#mk" x="140" y="314"/><use href="#mk" x="144" y="314"/><use href="#mk" x="149" y="314"/><use href="#mk" x="153" y="314"/><use href="#mk" x="157" y="314"/><use href="#mk" x="162" y="314"/><use href="#mk" x="166" y="314"/><use href="#mk" x="170" y="314"/><use href="#mk" x="175" y="314"/><use href="#mk" x="179" y="314"/><use href="#mk" x="183" y="312"/><use href="#mk" x="188" y="299"/><use href="#mk" x="192" y="286"/><use href="#mk" x="196" y="277"/><use href="#mk" x="201" y="272"/><use href="#mk" x="205" y="268"/><use href="#mk" x="209" y="264"/><use href="#mk" x="214" y="260"/><use href="#mk" x="218" y="257"/><use href="#mk" x="222" y="254"/><use href="#mk" x="227" y="251"/><use href="#mk" x="231" y="248"/><use href="#mk" x="236" y="246"/><use href="#mk" x="240" y="236"/><use href="#mk" x="244" y="229"/><use href="#mk" x="249" y="222"/><use href="#mk" x="253" y="220"/><use href="#mk" x="257" y="216"/><use href="#mk" x="262" y="212"/><use href="#mk" x="266" y="209"/><use href="#mk" x="270" y="207"/><use href="#mk" x="275" y="206"/><use href="#mk" x="279" y="204"/><use href="#mk" x="283" y="203"/><use href="#mk" x="288" y="202"/><use href="#mk" x="292" y="200"/><use href="#mk" x="296" y="199"/><use href="#mk" x="301" y="198"/><use href="#mk" x="305" y="197"/><use href="#mk" x="309" y="195"/><use href="#mk" x="314" y="194"/><use href="#mk" x="318" y="194"/><use href="#mk" x="322" y="193"/><use href="#mk" x="327" y="193"/><use href="#mk" x="331" y="193"/><use href="#mk" x="335" y="192"/><use href="#mk" x="340" y="192"/><use href="#mk" x="344" y="192"/><use href="#mk" x="348" y="191"/><use href="#mk" x="353" y="191"/><use href="#mk" x="357" y="191"/><use href="#mk" x="362" y="191"/><use href="#mk" x="366" y="190"/><use href="#mk" x="370" y="190"/><use href="#mk" x="375" y="190"/><use href="#mk" x="379" y="189"/><use href="#mk" x="383" y="189"/><use href="#mk" x="388" y="190"/><use href="#mk" x="392" y="194"/><use href="#mk" x="396" y="195"/><use href="#mk" x="401" y="196"/><use href="#mk" x="405" y="197"/><use href="#mk" x="409" y="198"/><use href="#mk" x="414" y="199"/><use href="#mk" x="418" y="200"/><use href="#mk" x="422" y="201"/><use href="#mk" x="427" y="202"/><use href="#mk" x="431" y="204"/><use href="#mk" x="435" y="205"/><use href="#mk" x="440" y="207"/><use href="#mk" x="444" y="209"/><use href="#mk" x="448" y="211"/><use href="#mk" x="453" y="213"/><use href="#mk" x="457" y="215"/><use href="#mk" x="461" y="216"/><use href="#mk" x="466" y="218"/><use href="#mk" x="470" y="220"/><use href="#mk" x="474" y="221"/><use href="#mk" x="479" y="223"/><use href="#mk" x="483" y="224"/><use href="#mk" x="488" y="226"/><use href="#mk" x="492" y="227"/><use href="#mk" x="496" y="229"/><use href="#mk" x="501" y="231"/><use href="#mk" x="505" y="232"/><use href="#mk" x="509" y="234"/><use href="#mk" x="514" y="235"/><use href="#mk" x="518" y="236"/><use href="#mk" x="522" y="237"/><use href="#mk" x="527" y="238"/><use href="#mk" x="531" y="239"/><use href="#mk" x="535" y="240"/><use href="#mk" x="540" y="241"/><use href="#mk" x="544" y="242"/><use href="#mk" x="548" y="243"/><use href="#mk" x="553" y="245"/><use href="#mk" x="557" y="247"/><use href="#mk" x="561" y="248"/><use href="#mk" x="566" y="250"/><use href="#mk" x="570" y="251"/><use href="#mk" x="574" y="253"/><use href="#mk" x="579" y="254"/><use href="#mk" x="583" y="255"/><use href="#mk" x="587" y="256"/><use href="#mk" x="592" y="257"/><use href="#mk" x="596" y="258"/><use href="#mk" x="600" y="259"/><use href="#mk" x="605" y="260"/><use href="#mk" x="609" y="261"/><use href="#mk" x="614" y="262"/><use href="#mk" x="618" y="262"/><use href="#mk" x="622" y="263"/><use href="#mk" x="627" y="263"/><use href="#mk" x="631" y="264"/><use href="#mk" x="635" y="264"/><use href="#mk" x="640" y="265"/><use href="#mk" x="644" y="265"/><use href="#mk" x="648" y="265"/><use href="#mk" x="653" y="265"/><use href="#mk" x="657" y="265"/><use href="#mk" x="661" y="265"/><use href="#mk" x="666" y="265"/><use href="#mk" x="670" y="265"/><use href="#mk" x="674" y="265"/></g><polyline points="49.5,320.5 53.5,320.5 57.5,320.5 62.5,320.5 66.5,320.5 70.5,320.5 75.5,320.5 79.5,320.5 83.5,320.5 88.5,320.5 92.5,320.5 96.5,320.5 101.5,320.5 105.5,320.5 110.5,320.5 114.5,320.5 118.5,320.5 123.5,320.5 127.5,320.5 131.5,320.5 136.5,320.5 140.5,320.5 144.5,320.5 149.5,320.5 153.5,320.5 157.5,320.5 162.5,320.5 166.5,320.5 170.5,320.5 175.5,320.5 179.5,320.5 183.5,320.5 188.5,304.5 192.5,293.5 196.5,285.5 201.5,279.5 205.5,274.5 209.5,270.5 214.5,267.5 218.5,264.5 222.5,261.5 227.5,259.5 231.5,256.5 236.5,254.5 240.5,247.5 244.5,238.5 249.5,232.5 253.5,227.5 257.5,224.5 262.5,221.5 266.5,219.5 270.5,218.5 275.5,216.5 279.5,215.5 283.5,214.5 288.5,212.5 292.5,211.5 296.5,211.5 301.5,210.5 305.5,209.5 309.5,208.5 314.5,207.5 318.5,207.5 322.5,207.5 327.5,206.5 331.5,206.5 335.5,206.5 340.5,206.5 344.5,205.5 348.5,205.5 353.5,205.5 357.5,205.5 362.5,206.5 366.5,206.5 370.5,207.5 375.5,208.5 379.5,210.5 383.5,212.5 388.5,214.5 392.5,216.5 396.5,217.5 401.5,219.5 405.5,220.5 409.5,220.5 414.5,220.5 418.5,220.5 422.5,222.5 427.5,224.5 431.5,225.5 435.5,227.5 440.5,229.5 444.5,231.5 448.5,233.5 453.5,234.5 457.5,236.5 461.5,237.5 466.5,238.5 470.5,239.5 474.5,241.5 479.5,242.5 483.5,243.5 488.5,245.5 492.5,247.5 496.5,249.5 501.5,250.5 505.5,252.5 509.5,254.5 514.5,254.5 518.5,255.5 522.5,255.5 527.5,256.5 531.5,256.5 535.5,256.5 540.5,257.5 544.5,257.5 548.5,258.5 553.5,258.5 557.5,259.5 561.5,259.5 566.5,260.5 570.5,260.5 574.5,260.5 579.5,261.5 583.5,261.5 587.5,261.5 592.5,261.5 596.5,262.5 600.5,262.5 605.5,262.5 609.5,262.5 614.5,262.5 618.5,262.5 622.5,262.5 627.5,262.5 631.5,262.5 635.5,261.5 640.5,259.5 644.5,257.5 648.5,258.5 653.5,258.5 657.5,257.5 661.5,253.5 666.5,251.5 670.5,250.5 674.5,250.5" fill="none" stroke="#666666" stroke-width="1"/><g fill="#666666"><use href="#mk" x="49" y="320"/><use href="#mk" x="53" y="320"/><use href="#mk" x="57" y="320"/><use href="#mk" x="62" y="320"/><use href="#mk" x="66" y="320"/><use href="#mk" x="70" y="320"/><use href="#mk" x="75" y="320"/><use href="#mk" x="79" y="320"/><use href="#mk" x="83" y="320"/><use href="#mk" x="88" y="320"/><use href="#mk" x="92" y="320"/><use href="#mk" x="96" y="320"/><use href="#mk" x="101" y="320"/><use href="#mk" x="105" y="320"/><use href="#mk" x="110" y="320"/><use href="#mk" x="114" y="320"/><use href="#mk" x="118" y="320"/><use href="#mk" x="123" y="320"/><use href="#mk" x="127" y="320"/><use href="#mk" x="131" y="320"/><use href="#mk" x="136" y="320"/><use href="#mk" x="140" y="320"/><use href="#mk" x="144" y="320"/><use href="#mk" x="149" y="320"/><use href="#mk" x="153" y="320"/><use href="#mk" x="157" y="320"/><use href="#mk" x="162" y="320"/><use href="#mk" x="166" y="320"/><use href="#mk" x="170" y="320"/><use href="#mk" x="175" y="320"/><use href="#mk" x="179" y="320"/><use href="#mk" x="183" y="320"/><use href="#mk" x="188" y="304"/><use href="#mk" x="192" y="293"/><use href="#mk" x="196" y="285"/><use href="#mk" x="201" y="279"/><use href="#mk" x="205" y="274"/><use href="#mk" x="209" y="270"/><use href="#mk" x="214" y="267"/><use href="#mk" x="218" y="264"/><use href="#mk" x="222" y="261"/><use href="#mk" x="227" y="259"/><use href="#mk" x="231" y="256"/><use href="#mk" x="236" y="254"/><use href="#mk" x="240" y="247"/><use href="#mk" x="244" y="238"/><use href="#mk" x="249" y="232"/><use href="#mk" x="253" y="227"/><use href="#mk" x="257" y="224"/><use href="#mk" x="262" y="221"/><use href="#mk" x="266" y="219"/><use href="#mk" x="270" y="218"/><use href="#mk" x="275" y="216"/><use href="#mk" x="279" y="215"/><use href="#mk" x="283" y="214"/><use href="#mk" x="288" y="212"/><use href="#mk" x="292" y="211"/><use href="#mk" x="296" y="211"/><use href="#mk" x="301" y="210"/><use href="#mk" x="305" y="209"/><use href="#mk" x="309" y="208"/><use href="#mk" x="314" y="207"/><use href="#mk" x="318" y="207"/><use href="#mk" x="322" y="207"/><use href="#mk" x="327" y="206"/><use href="#mk" x="331" y="206"/><use href="#mk" x="335" y="206"/><use href="#mk" x="340" y="206"/><use href="#mk" x="344" y="205"/><use href="#mk" x="348" y="205"/><use href="#mk" x="353" y="205"/><use href="#mk" x="357" y="205"/><use href="#mk" x="362" y="206"/><use href="#mk" x="366" y="206"/><use href="#mk" x="370" y="207"/><use href="#mk" x="375" y="208"/><use href="#mk" x="379" y="210"/><use href="#mk" x="383" y="212"/><use href="#mk" x="388" y="214"/><use href="#mk" x="392" y="216"/><use href="#mk" x="396" y="217"/><use href="#mk" x="401" y="219"/><use href="#mk" x="405" y="220"/><use href="#mk" x="409" y="220"/><use href="#mk" x="414" y="220"/><use href="#mk" x="418" y="220"/><use href="#mk" x="422" y="222"/><use href="#mk" x="427" y="224"/><use href="#mk" x="431" y="225"/><use href="#mk" x="435" y="227"/><use href="#mk" x="440" y="229"/><use href="#mk" x="444" y="231"/><use href="#mk" x="448" y="233"/><use href="#mk" x="453" y="234"/><use href="#mk" x="457" y="236"/><use href="#mk" x="461" y="237"/><use href="#mk" x="466" y="238"/><use href="#mk" x="470" y="239"/><use href="#mk" x="474" y="241"/><use href="#mk" x="479" y="242"/><use href="#mk" x="483" y="243"/><use href="#mk" x="488" y="245"/><use href="#mk" x="492" y="247"/><use href="#mk" x="496" y="249"/><use href="#mk" x="501" y="250"/><use href="#mk" x="505" y="252"/><use href="#mk" x="509" y="254"/><use href="#mk" x="514" y="254"/><use href="#mk" x="518" y="255"/><use href="#mk" x="522" y="255"/><use href="#mk" x="527" y="256"/><use href="#mk" x="531" y="256"/><use href="#mk" x="535" y="256"/><use href="#mk" x="540" y="257"/><use href="#mk" x="544" y="257"/><use href="#mk" x="548" y="258"/><use href="#mk" x="553" y="258"/><use href="#mk" x="557" y="259"/><use href="#mk" x="561" y="259"/><use href="#mk" x="566" y="260"/><use href="#mk" x="570" y="260"/><use href="#mk" x="574" y="260"/><use href="#mk" x="579" y="261"/><use href="#mk" x="583" y="261"/><use href="#mk" x="587" y="261"/><use href="#mk" x="592" y="261"/><use href="#mk" x="596" y="262"/><use href="#mk" x="600" y="262"/><use href="#mk" x="605" y="262"/><use href="#mk" x="609" y="262"/><use href="#mk" x="614" y="262"/><use href="#mk" x="618" y="262"/><use href="#mk" x="622" y="262"/><use href="#mk" x="627" y="262"/><use href="#mk" x="631" y="262"/><use href="#mk" x="635" y="261"/><use href="#mk" x="640" y="259"/><use href="#mk" x="644" y="257"/><use href="#mk" x="648" y="258"/><use href="#mk" x="653" y="258"/><use href="#mk" x="657" y="257"/><use href="#mk" x="661" y="253"/><use href="#mk" x="666" y="251"/><use href="#mk" x="670" y="250"/><use href="#mk" x="674" y="250"/></g><polyline points="49.5,344.5 53.5,344.5 57.5,344.5 62.5,344.5 66.5,344.5 70.5,344.5 75.5,344.5 79.5,344.5 83.5,344.5 88.5,344.5 92.5,344.5 96.5,344.5 101.5,344.5 105.5,344.5 110.5,344.5 114.5,344.5 118.5,344.5 123.5,344.5 127.5,344.5 131.5,344.5 136.5,344.5 140.5,344.5 144.5,344.5 149.5,344.5 153.5,344.5 157.5,344.5 162.5,344.5 166.5,344.5 170.5,344.5 175.5,344.5 179.5,344.5 183.5,341.5 188.5,329.5 192.5,315.5 196.5,309.5 201.5,303.5 205.5,297.5 209.5,294.5 214.5,290.5 218.5,288.5 222.5,285.5 227.5,283.5 231.5,281.5 236.5,279.5 240.5,272.5 244.5,263.5 249.5,257.5 253.5,253.5 257.5,248.5 262.5,245.5 266.5,242.5 270.5,239.5 275.5,238.5 279.5,237.5 283.5,235.5 288.5,234.5 292.5,233.5 296.5,232.5 301.5,231.5 305.5,230.5 309.5,229.5 314.5,227.5 318.5,226.5 322.5,226.5 327.5,225.5 331.5,224.5 335.5,224.5 340.5,223.5 344.5,222.5 348.5,222.5 353.5,221.5 357.5,221.5 362.5,221.5 366.5,221.5 370.5,221.5 375.5,220.5 379.5,220.5 383.5,220.5 388.5,220.5 392.5,220.5 396.5,220.5 401.5,221.5 405.5,221.5 409.5,221.5 414.5,221.5 418.5,221.5 422.5,223.5 427.5,224.5 431.5,226.5 435.5,228.5 440.5,229.5 444.5,231.5 448.5,233.5 453.5,234.5 457.5,236.5 461.5,237.5 466.5,238.5 470.5,239.5 474.5,241.5 479.5,242.5 483.5,244.5 488.5,246.5 492.5,248.5 496.5,250.5 501.5,251.5 505.5,253.5 509.5,255.5 514.5,256.5 518.5,257.5 522.5,259.5 527.5,260.5 531.5,261.5 535.5,262.5 540.5,263.5 544.5,264.5 548.5,265.5 553.5,266.5 557.5,267.5 561.5,268.5 566.5,270.5 570.5,271.5 574.5,272.5 579.5,273.5 583.5,274.5 587.5,275.5 592.5,277.5 596.5,278.5 600.5,279.5 605.5,280.5 609.5,281.5 614.5,282.5 618.5,282.5 622.5,283.5 627.5,283.5 631.5,284.5 635.5,285.5 640.5,286.5 644.5,286.5 648.5,286.5 653.5,286.5 657.5,286.5 661.5,287.5 666.5,287.5 670.5,287.5 674.5,287.5" fill="none" stroke="#000055" stroke-width="1"/><g fill="#000055"><use href="#mk" x="49" y="344"/><use href="#mk" x="53" y="344"/><use href="#mk" x="57" y="344"/><use href="#mk" x="62" y="344"/><use href="#mk" x="66" y="344"/><use href="#mk" x="70" y="344"/><use href="#mk" x="75" y="344"/><use href="#mk" x="79" y="344"/><use href="#mk" x="83" y="344"/><use href="#mk" x="88" y="344"/><use href="#mk" x="92" y="344"/><use href="#mk" x="96" y="344"/><use href="#mk" x="101" y="344"/><use href="#mk" x="105" y="344"/><use href="#mk" x="110" y="344"/><use href="#mk" x="114" y="344"/><use href="#mk" x="118" y="344"/><use href="#mk" x="123" y="344"/><use href="#mk" x="127" y="344"/><use href="#mk" x="131" y="344"/><use href="#mk" x="136" y="344"/><use href="#mk" x="140" y="344"/><use href="#mk" x="144" y="344"/><use href="#mk" x="149" y="344"/><use href="#mk" x="153" y="344"/><use href="#mk" x="157" y="344"/><use href="#mk" x="162" y="344"/><use href="#mk" x="166" y="344"/><use href="#mk" x="170" y="344"/><use href="#mk" x="175" y="344"/><use href="#mk" x="179" y="344"/><use href="#mk" x="183" y="341"/><use href="#mk" x="188" y="329"/><use href="#mk" x="192" y="315"/><use href="#mk" x="196" y="309"/><use href="#mk" x="201" y="303"/><use href="#mk" x="205" y="297"/><use href="#mk" x="209" y="294"/><use href="#mk" x="214" y="290"/><use href="#mk" x="218" y="288"/><use href="#mk" x="222" y="285"/><use href="#mk" x="227" y="283"/><use href="#mk" x="231" y="281"/><use href="#mk" x="236" y="279"/><use href="#mk" x="240" y="272"/><use href="#mk" x="244" y="263"/><use href="#mk" x="249" y="257"/><use href="#mk" x="253" y="253"/><use href="#mk" x="257" y="248"/><use href="#mk" x="262" y="245"/><use href="#mk" x="266" y="242"/><use href="#mk" x="270" y="239"/><use href="#mk" x="275" y="238"/><use href="#mk" x="279" y="237"/><use href="#mk" x="283" y="235"/><use href="#mk" x="288" y="234"/><use href="#mk" x="292" y="233"/><use href="#mk" x="296" y="232"/><use href="#mk" x="301" y="231"/><use href="#mk" x="305" y="230"/><use href="#mk" x="309" y="229"/><use href="#mk" x="314" y="227"/><use href="#mk" x="318" y="226"/><use href="#mk" x="322" y="226"/><use href="#mk" x="327" y="225"/><use href="#mk" x="331" y="224"/><use href="#mk" x="335" y="224"/><use href="#mk" x="340" y="223"/><use href="#mk" x="344" y="222"/><use href="#mk" x="348" y="222"/><use href="#mk" x="353" y="221"/><use href="#mk" x="357" y="221"/><use href="#mk" x="362" y="221"/><use href="#mk" x="366" y="221"/><use href="#mk" x="370" y="221"/><use href="#mk" x="375" y="220"/><use href="#mk" x="379" y="220"/><use href="#mk" x="383" y="220"/><use href="#mk" x="388" y="220"/><use href="#mk" x="392" y="220"/><use href="#mk" x="396" y="220"/><use href="#mk" x="401" y="221"/><use href="#mk" x="405" y="221"/><use href="#mk" x="409" y="221"/><use href="#mk" x="414" y="221"/><use href="#mk" x="418" y="221"/><use href="#mk" x="422" y="223"/><use href="#mk" x="427" y="224"/><use href="#mk" x="431" y="226"/><use href="#mk" x="435" y="228"/><use href="#mk" x="440" y="229"/><use href="#mk" x="444" y="231"/><use href="#mk" x="448" y="233"/><use href="#mk" x="453" y="234"/><use href="#mk" x="457" y="236"/><use href="#mk" x="461" y="237"/><use href="#mk" x="466" y="238"/><use href="#mk" x="470" y="239"/><use href="#mk" x="474" y="241"/><use href="#mk" x="479" y="242"/><use href="#mk" x="483" y="244"/><use href="#mk" x="488" y="246"/><use href="#mk" x="492" y="248"/><use href="#mk" x="496" y="250"/><use href="#mk" x="501" y="251"/><use href="#mk" x="505" y="253"/><use href="#mk" x="509" y="255"/><use href="#mk" x="514" y="256"/><use href="#mk" x="518" y="257"/><use href="#mk" x="522" y="259"/><use href="#mk" x="527" y="260"/><use href="#mk" x="531" y="261"/><use href="#mk" x="535" y="262"/><use href="#mk" x="540" y="263"/><use href="#mk" x="544" y="264"/><use href="#mk" x="548" y="265"/><use href="#mk" x="553" y="266"/><use href="#mk" x="557" y="267"/><use href="#mk" x="561" y="268"/><use href="#mk" x="566" y="270"/><use href="#mk" x="570" y="271"/><use href="#mk" x="574" y="272"/><use href="#mk" x="579" y="273"/><use href="#mk" x="583" y="274"/><use href="#mk" x="587" y="275"/><use href="#mk" x="592" y="277"/><use href="#mk" x="596" y="278"/><use href="#mk" x="600" y="279"/><use href="#mk" x="605" y="280"/><use href="#mk" x="609" y="281"/><use href="#mk" x="614" y="282"/><use href="#mk" x="618" y="282"/><use href="#mk" x="622" y="283"/><use href="#mk" x="627" y="283"/><use href="#mk" x="631" y="284"/><use href="#mk" x="635" y="285"/><use href="#mk" x="640" y="286"/><use href="#mk" x="644" y="286"/><use href="#mk" x="648" y="286"/><use href="#mk" x="653" y="286"/><use href="#mk" x="657" y="286"/><use href="#mk" x="661" y="287"/><use href="#mk" x="666" y="287"/><use href="#mk" x="670" y="287"/><use href="#mk" x="674" y="287"/></g><polyline points="49.5,350.5 53.5,350.5 57.5,350.5 62.5,350.5 66.5,350.5 70.5,350.5 75.5,350.5 79.5,350.5 83.5,350.5 88.5,350.5 92.5,350.5 96.5,350.5 101.5,350.5 105.5,350.5 110.5,350.5 114.5,350.5 118.5,350.5 123.5,350.5 127.5,350.5 131.5,350.5 136.5,350.5 140.5,350.5 144.5,350.5 149.5,350.5 153.5,350.5 157.5,350.5 162.5,350.5 166.5,350.5 170.5,350.5 175.5,350.5 179.5,350.5 183.5,350.5 188.5,336.5 192.5,319.5 196.5,314.5 201.5,309.5 205.5,302.5 209.5,299.5 214.5,296.5 218.5,293.5 222.5,290.5 227.5,287.5 231.5,284.5 236.5,281.5 240.5,275.5 244.5,267.5 249.5,261.5 253.5,256.5 257.5,251.5 262.5,246.5 266.5,244.5 270.5,241.5 275.5,239.5 279.5,239.5 283.5,238.5 288.5,238.5 292.5,237.5 296.5,236.5 301.5,235.5 305.5,235.5 309.5,234.5 314.5,233.5 318.5,233.5 322.5,233.5 327.5,233.5 331.5,233.5 335.5,234.5 340.5,234.5 344.5,234.5 348.5,234.5 353.5,234.5 357.5,234.5 362.5,234.5 366.5,234.5 370.5,235.5 375.5,237.5 379.5,238.5 383.5,240.5 388.5,242.5 392.5,243.5 396.5,244.5 401.5,245.5 405.5,246.5 409.5,248.5 414.5,249.5 418.5,250.5 422.5,251.5 427.5,253.5 431.5,254.5 435.5,256.5 440.5,257.5 444.5,259.5 448.5,260.5 453.5,262.5 457.5,263.5 461.5,264.5 466.5,266.5 470.5,267.5 474.5,268.5 479.5,270.5 483.5,271.5 488.5,272.5 492.5,273.5 496.5,274.5 501.5,275.5 505.5,276.5 509.5,276.5 514.5,277.5 518.5,278.5 522.5,279.5 527.5,280.5 531.5,281.5 535.5,282.5 540.5,283.5 544.5,284.5 548.5,284.5 553.5,284.5 557.5,285.5 561.5,285.5 566.5,286.5 570.5,286.5 574.5,286.5 579.5,287.5 583.5,287.5 587.5,287.5 592.5,287.5 596.5,287.5 600.5,287.5 605.5,287.5 609.5,287.5 614.5,288.5 618.5,288.5 622.5,288.5 627.5,288.5 631.5,287.5 635.5,284.5 640.5,283.5 644.5,282.5 648.5,281.5 653.5,280.5 657.5,280.5 661.5,279.5 666.5,277.5 670.5,275.5 674.5,274.5" fill="none" stroke="#99FFFF" stroke-width="1"/><g fill="#99FFFF"><use href="#mk" x="49" y="350"/><use href="#mk" x="53" y="350"/><use href="#mk" x="57" y="350"/><use href="#mk" x="62" y="350"/><use href="#mk" x="66" y="350"/><use href="#mk" x="70" y="350"/><use href="#mk" x="75" y="350"/><use href="#mk" x="79" y="350"/><use href="#mk" x="83" y="350"/><use href="#mk" x="88" y="350"/><use href="#mk" x="92" y="350"/><use href="#mk" x="96" y="350"/><use href="#mk" x="101" y="350"/><use href="#mk" x="105" y="350"/><use href="#mk" x="110" y="350"/><use href="#mk" x="114" y="350"/><use href="#mk" x="118" y="350"/><use href="#mk" x="123" y="350"/><use href="#mk" x="127" y="350"/><use href="#mk" x="131" y="350"/><use href="#mk" x="136" y="350"/><use href="#mk" x="140" y="350"/><use href="#mk" x="144" y="350"/><use href="#mk" x="149" y="350"/><use href="#mk" x="153" y="350"/><use href="#mk" x="157" y="350"/><use href="#mk" x="162" y="350"/><use href="#mk" x="166" y="350"/><use href="#mk" x="170" y="350"/><use href="#mk" x="175" y="350"/><use href="#mk" x="179" y="350"/><use href="#mk" x="183" y="350"/><use href="#mk" x="188" y="336"/><use href="#mk" x="192" y="319"/><use href="#mk" x="196" y="314"/><use href="#mk" x="201" y="309"/><use href="#mk" x="205" y="302"/><use href="#mk" x="209" y="299"/><use href="#mk" x="214" y="296"/><use href="#mk" x="218" y="293"/><use href="#mk" x="222" y="290"/><use href="#mk" x="227" y="287"/><use href="#mk" x="231" y="284"/><use href="#mk" x="236" y="281"/><use href="#mk" x="240" y="275"/><use href="#mk" x="244" y="267"/><use href="#mk" x="249" y="261"/><use href="#mk" x="253" y="256"/><use href="#mk" x="257" y="251"/><use href="#mk" x="262" y="246"/><use href="#mk" x="266" y="244"/><use href="#mk" x="270" y="241"/><use href="#mk" x="275" y="239"/><use href="#mk" x="279" y="239"/><use href="#mk" x="283" y="238"/><use href="#mk" x="288" y="238"/><use href="#mk" x="292" y="237"/><use href="#mk" x="296" y="236"/><use href="#mk" x="301" y="235"/><use href="#mk" x="305" y="235"/><use href="#mk" x="309" y="234"/><use href="#mk" x="314" y="233"/><use href="#mk" x="318" y="233"/><use href="#mk" x="322" y="233"/><use href="#mk" x="327" y="233"/><use href="#mk" x="331" y="233"/><use href="#mk" x="335" y="234"/><use href="#mk" x="340" y="234"/><use href="#mk" x="344" y="234"/><use href="#mk" x="348" y="234"/><use href="#mk" x="353" y="234"/><use href="#mk" x="357" y="234"/><use href="#mk" x="362" y="234"/><use href="#mk" x="366" y="234"/><use href="#mk" x="370" y="235"/><use href="#mk" x="375" y="237"/><use href="#mk" x="379" y="238"/><use href="#mk" x="383" y="240"/><use href="#mk" x="388" y="242"/><use href="#mk" x="392" y="243"/><use href="#mk" x="396" y="244"/><use href="#mk" x="401" y="245"/><use href="#mk" x="405" y="246"/><use href="#mk" x="409" y="248"/><use href="#mk" x="414" y="249"/><use href="#mk" x="418" y="250"/><use href="#mk" x="422" y="251"/><use href="#mk" x="427" y="253"/><use href="#mk" x="431" y="254"/><use href="#mk" x="435" y="256"/><use href="#mk" x="440" y="257"/><use href="#mk" x="444" y="259"/><use href="#mk" x="448" y="260"/><use href="#mk" x="453" y="262"/><use href="#mk" x="457" y="263"/><use href="#mk" x="461" y="264"/><use href="#mk" x="466" y="266"/><use href="#mk" x="470" y="267"/><use href="#mk" x="474" y="268"/><use href="#mk" x="479" y="270"/><use href="#mk" x="483" y="271"/><use href="#mk" x="488" y="272"/><use href="#mk" x="492" y="273"/><use href="#mk" x="496" y="274"/><use href="#mk" x="501" y="275"/><use href="#mk" x="505" y="276"/><use href="#mk" x="509" y="276"/><use href="#mk" x="514" y="277"/><use href="#mk" x="518" y="278"/><use href="#mk" x="522" y="279"/><use href="#mk" x="527" y="280"/><use href="#mk" x="531" y="281"/><use href="#mk" x="535" y="282"/><use href="#mk" x="540" y="283"/><use href="#mk" x="544" y="284"/><use href="#mk" x="548" y="284"/><use href="#mk" x="553" y="284"/><use href="#mk" x="557" y="285"/><use href="#mk" x="561" y="285"/><use href="#mk" x="566" y="286"/><use href="#mk" x="570" y="286"/><use href="#mk" x="574" y="286"/><use href="#mk" x="579" y="287"/><use href="#mk" x="583" y="287"/><use href="#mk" x="587" y="287"/><use href="#mk" x="592" y="287"/><use href="#mk" x="596" y="287"/><use href="#mk" x="600" y="287"/><use href="#mk" x="605" y="287"/><use href="#mk" x="609" y="287"/><use href="#mk" x="614" y="288"/><use href="#mk" x="618" y="288"/><use href="#mk" x="622" y="288"/><use href="#mk" x="627" y="288"/><use href="#mk" x="631" y="287"/><use href="#mk" x="635" y="284"/><use href="#mk" x="640" y="283"/><use href="#mk" x="644" y="282"/><use href="#mk" x="648" y="281"/><use href="#mk" x="653" y="280"/><use href="#mk" x="657" y="280"/><use href="#mk" x="661" y="279"/><use href="#mk" x="666" y="277"/><use href="#mk" x="670" y="275"/><use href="#mk" x="674" y="274"/></g><rect x="338" y="159" width="3" height="89" fill="#000"/><rect x="337" y="247" width="3" height="92" fill="#000"/><rect x="451" y="183" width="3" height="185" fill="#000"/><rect x="452" y="366" width="3" height="64" fill="#000"/><rect x="549" y="191" width="3" height="150" fill="#000"/><rect x="548" y="339" width="3" height="150" fill="#000"/><rect x="643" y="193" width="3" height="170" fill="#000"/><rect x="644" y="362" width="3" height="171" fill="#000"/><rect x="298" y="124" width="89" height="31" fill="#fff"/><text x="81" y="45" class="an">24.0 GPH</text><text x="81" y="60" class="an">FULL RICH</text><text x="66" y="104.5" class="an">IAS 197</text><text x="396" y="33" class="an">PRM 2500</text><text x="396" y="48" class="an">MAP 25&quot;</text><text x="395" y="63" class="an">Alt 5500</text><text x="305" y="137" class="an">17.3 GPH</text><text x="305" y="152" class="an">PEAK EGT</text><text x="430" y="159" class="an">15.8 GPH</text><text x="430" y="174" class="an" style="letter-spacing:1.4px">50*LOP</text><text x="530" y="168" class="an">14.5 GPH</text><text x="530" y="183" class="an" style="letter-spacing:1.4px">100*LOP</text><text x="626" y="170" class="an">13.2 GPH</text><text x="626" y="185" class="an" style="letter-spacing:1.5px">150*LOP</text><text x="420" y="456" class="an">IAS 188</text><text x="521" y="524.5" class="an">IAS 186</text><text x="630" y="569" class="an">IAS 174</text><rect x="199" y="30" width="78" height="130" fill="#fff"/><rect x="204.5" y="32.5" width="68" height="125" fill="#fff" stroke="#000" stroke-width="1"/><rect x="210.5" y="38.5" width="11" height="11" fill="#FF3300" stroke="#000" stroke-width="1"/><text x="225" y="49" class="lg" style="letter-spacing:1.75px">FF*75</text><rect x="225" y="50" width="42" height="1" fill="#000"/><rect x="210.5" y="55.5" width="11" height="11" fill="#0000EE" stroke="#000" stroke-width="1"/><text x="225" y="66" class="lg" style="letter-spacing:0.3px">EGT1</text><rect x="225" y="67" width="35" height="1" fill="#000"/><rect x="210.5" y="72.5" width="11" height="11" fill="#FFFF00" stroke="#000" stroke-width="1"/><text x="225" y="83" class="lg" style="letter-spacing:0.3px">EGT2</text><rect x="225" y="84" width="35" height="1" fill="#000"/><rect x="210.5" y="89.5" width="11" height="11" fill="#CC9900" stroke="#000" stroke-width="1"/><text x="225" y="100" class="lg" style="letter-spacing:0.3px">EGT3</text><rect x="225" y="101" width="35" height="1" fill="#000"/><rect x="210.5" y="106.5" width="11" height="11" fill="#666666" stroke="#000" stroke-width="1"/><text x="225" y="117" class="lg" style="letter-spacing:0.3px">EGT4</text><rect x="225" y="118" width="35" height="1" fill="#000"/><rect x="210.5" y="123.5" width="11" height="11" fill="#000055" stroke="#000" stroke-width="1"/><text x="225" y="134" class="lg" style="letter-spacing:0.3px">EGT5</text><rect x="225" y="135" width="35" height="1" fill="#000"/><rect x="210.5" y="140.5" width="11" height="11" fill="#99FFFF" stroke="#000" stroke-width="1"/><text x="225" y="151" class="lg" style="letter-spacing:0.3px">EGT6</text><rect x="225" y="152" width="35" height="1" fill="#000"/>
</svg></body></html>
